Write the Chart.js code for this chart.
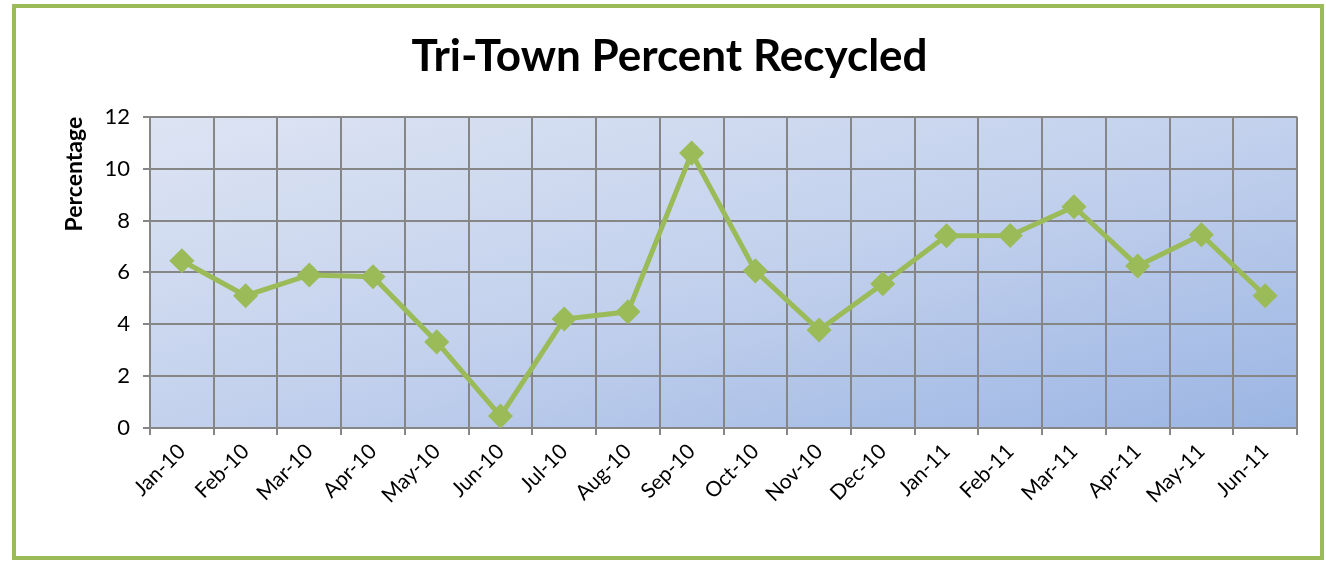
<!DOCTYPE html>
<html>
<head>
<meta charset="utf-8">
<script src="https://cdn.jsdelivr.net/npm/chart.js@4"></script>
<style>
  html, body { margin: 0; padding: 0; background: #fff; }
  #wrap { width: 1326px; height: 562px; }
</style>
</head>
<body>
<div id="wrap"><canvas id="recycled"></canvas></div>
<script>
const months = ['Jan-10', 'Feb-10', 'Mar-10', 'Apr-10', 'May-10', 'Jun-10', 'Jul-10', 'Aug-10', 'Sep-10',
  'Oct-10', 'Nov-10', 'Dec-10', 'Jan-11', 'Feb-11', 'Mar-11', 'Apr-11', 'May-11', 'Jun-11']
const percentRecycled = [6.45, 5.1, 5.9, 5.83, 3.32, 0.46, 4.2, 4.48, 10.6,
  6.06, 3.78, 5.56, 7.41, 7.42, 8.53, 6.25, 7.45, 5.1]

const green = '#9bbb59'
const gridGrey = '#868686'

// plot area gradient (corner to corner, like excel's diagonal fill) + outer green frame
const backdrop = {
  id: 'backdrop',
  beforeDraw(chart) {
    const { ctx, chartArea: a } = chart
    const w = a.right - a.left, h = a.bottom - a.top
    const cx = a.left + w / 2, cy = a.top + h / 2
    const k = w * h / (w * w + h * h)
    const g = ctx.createLinearGradient(cx - h * k, cy - w * k, cx + h * k, cy + w * k)
    g.addColorStop(0, '#dde4f3')
    g.addColorStop(0.5, '#c3d1ed')
    g.addColorStop(1, '#9bb5e3')
    ctx.save()
    ctx.fillStyle = g
    ctx.fillRect(a.left, a.top, w, h)
    ctx.restore()
  },
  afterDraw(chart) {
    const { ctx } = chart
    ctx.save()
    ctx.strokeStyle = green
    ctx.lineWidth = 4
    ctx.strokeRect(14, 6, 1308, 552)
    ctx.restore()
  }
}

new Chart(document.getElementById('recycled'), {
  type: 'line',
  data: {
    labels: months,
    datasets: [{
      label: 'Percent Recycled',
      data: percentRecycled,
      borderColor: green,
      backgroundColor: green,
      borderWidth: 5,
      pointStyle: 'rectRot',
      pointRadius: 9,
      pointHoverRadius: 9,
      tension: 0
    }]
  },
  options: {
    responsive: true,
    maintainAspectRatio: false,
    animation: false,
    layout: { padding: { left: 42, right: 29, top: 0, bottom: 0 } },
    plugins: {
      legend: { display: false },
      tooltip: { enabled: false },
      title: {
        display: true,
        text: 'Tri-Town Percent Recycled',
        color: '#000',
        font: { family: 'Lato', size: 44, weight: 'bold' },
        padding: { top: 30, bottom: 34 }
      }
    },
    scales: {
      x: {
        offset: true,
        grid: { offset: true, color: gridGrey, lineWidth: 2, tickLength: 7 },
        border: { color: gridGrey, width: 2 },
        ticks: {
          color: '#000',
          font: { family: 'Lato', size: 21 },
          minRotation: 45,
          maxRotation: 45,
          autoSkip: false,
          padding: 4
        },
        afterFit(scale) { scale.height = 134 }
      },
      y: {
        min: 0,
        max: 12,
        grid: { color: gridGrey, lineWidth: 2, tickLength: 7 },
        border: { color: gridGrey, width: 2 },
        ticks: {
          stepSize: 2,
          color: '#000',
          font: { family: 'Lato', size: 22 },
          padding: 13
        },
        title: {
          display: true,
          text: 'Percentage',
          align: 'end',
          color: '#000',
          font: { family: 'Lato', size: 23, weight: 'bold' },
          padding: { top: 19, bottom: 0 }
        },
        afterFit(scale) { scale.width = 108 }
      }
    }
  },
  plugins: [backdrop]
})
</script>
</body>
</html>
